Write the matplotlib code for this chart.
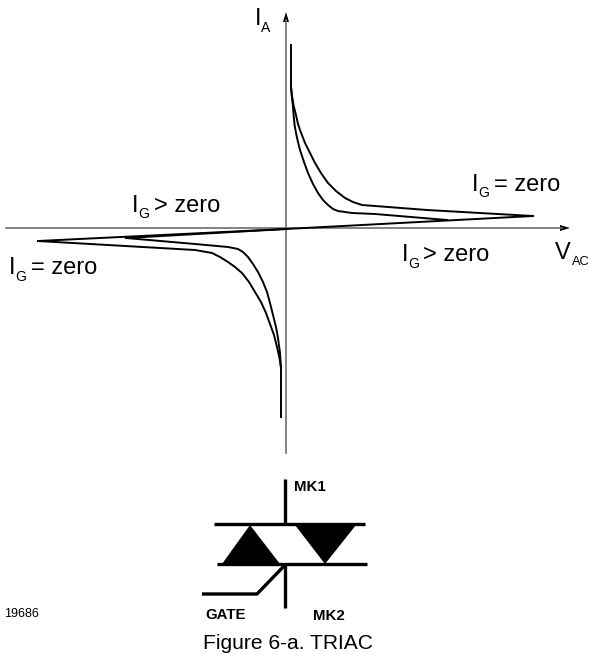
#!/usr/bin/env python3
# TRIAC characteristic and symbol, everything in image pixel coordinates
import matplotlib
matplotlib.use('Agg')
import matplotlib.pyplot as plt
from matplotlib.patches import Polygon

plt.rcParams['font.family'] = ['Liberation Sans', 'DejaVu Sans']

# curves, upper right quadrant
upper_outer_x = [291, 291, 291, 292, 293.5, 295.5, 298, 300, 305, 310, 315, 321, 328, 336, 345, 353, 362, 375, 427, 533]
upper_outer_y = [45, 70, 87, 96, 105, 113, 124, 130, 143, 153, 163, 173, 183, 191, 198, 202, 205, 206, 210, 216]
upper_inner_x = [291, 291.8, 292.8, 293.6, 294.6, 296, 298, 300, 304, 308, 313, 318, 323, 328, 333, 338, 345, 352, 375, 447]
upper_inner_y = [87, 96, 105, 115, 125, 133, 142, 150, 162, 173, 184, 193, 200, 205, 209, 211, 212, 213, 214, 220]

# curves, lower left quadrant
lower_outer_x = [38, 195, 212, 220, 228, 235, 242, 249, 255, 261, 266, 270, 274, 277, 279.5, 281, 281]
lower_outer_y = [241, 250, 253, 257, 262, 267, 273, 282, 292, 302, 313, 324, 335, 347, 358, 368, 417]
lower_inner_x = [126, 195, 228, 233, 238, 243, 248, 253, 258, 263, 267, 270, 273, 276, 278, 280, 281]
lower_inner_y = [238, 244, 247, 248, 249, 252, 257, 264, 272, 282, 292, 303, 315, 327, 338, 353, 368]

# the nearly straight parts through the origin
base_x = [38, 286, 533]
base_y = [241, 229, 216]
base_inner_x = [126, 286]
base_inner_y = [238, 229]

# text labels: main letter, subscript, rest of the label
main_labels = [(254.5, 25, 'I'), (471.5, 191, 'I'), (131.5, 212, 'I'), (401.5, 261, 'I'), (8.5, 274, 'I'), (555, 259, 'V')]
sub_labels = [(261, 32, 'A'), (478, 197, 'G'), (138.5, 218, 'G'), (408, 268, 'G'), (15, 281, 'G')]
rest_labels = [(494, 191, '= zero'), (154, 212, '> zero'), (423, 261, '> zero'), (31, 274, '= zero')]
bold_labels = [(294, 491, 'MK1'), (205, 619, 'GATE'), (313, 620, 'MK2')]

fig = plt.figure(figsize=(5.89, 6.54), dpi=100)
ax = fig.add_axes([0, 0, 1, 1])
ax.set_xlim(0, 589)
ax.set_ylim(654, 0)
ax.axis('off')

# axes
gray = '#6e6e6e'
ax.plot([6, 562], [228, 228], color=gray, lw=1.2)
ax.plot([286, 286], [20, 453], color=gray, lw=1.2)
ax.add_patch(Polygon([[570, 228], [560, 225], [560, 231]], color='black', lw=0))
ax.add_patch(Polygon([[286, 12], [283, 22], [289, 22]], color='black', lw=0))

# characteristic
for xs, ys in [(upper_outer_x, upper_outer_y), (upper_inner_x, upper_inner_y),
               (lower_outer_x, lower_outer_y), (lower_inner_x, lower_inner_y),
               (base_x, base_y), (base_inner_x, base_inner_y)]:
    ax.plot(xs, ys, color='black', lw=1.4, solid_joinstyle='round')

# triac symbol
ax.plot([285, 285], [479, 524], color='black', lw=2.4, solid_capstyle='butt')
ax.plot([214, 365], [524, 524], color='black', lw=2.4, solid_capstyle='butt')
ax.plot([217, 367], [564, 564], color='black', lw=2.4, solid_capstyle='butt')
ax.plot([285, 285], [564, 608], color='black', lw=2.4, solid_capstyle='butt')
ax.plot([202, 257, 285], [594, 594, 565], color='black', lw=2.4, solid_capstyle='butt')
ax.add_patch(Polygon([[250, 525], [222, 564], [280, 564]], color='black', lw=0))
ax.add_patch(Polygon([[295, 525], [356, 525], [325, 564]], color='black', lw=0))

# text
for x, y, s in main_labels:
    ax.text(x, y, s, fontsize=17, ha='left', va='baseline')
for x, y, s in sub_labels:
    ax.text(x, y, s, fontsize=10, ha='left', va='baseline')
ax.text(571.5, 265, 'AC', fontsize=9.2, ha='left', va='baseline')
for x, y, s in rest_labels:
    ax.text(x, y, s, fontsize=17, ha='left', va='baseline')
for x, y, s in bold_labels:
    ax.text(x, y, s, fontsize=10.8, fontweight='bold', ha='left', va='baseline')
ax.text(4, 617, '19686', fontsize=9, ha='left', va='baseline')
ax.text(203, 649, 'Figure 6-a. TRIAC', fontsize=15.1, ha='left', va='baseline')

fig.savefig('out.png', dpi=100)
